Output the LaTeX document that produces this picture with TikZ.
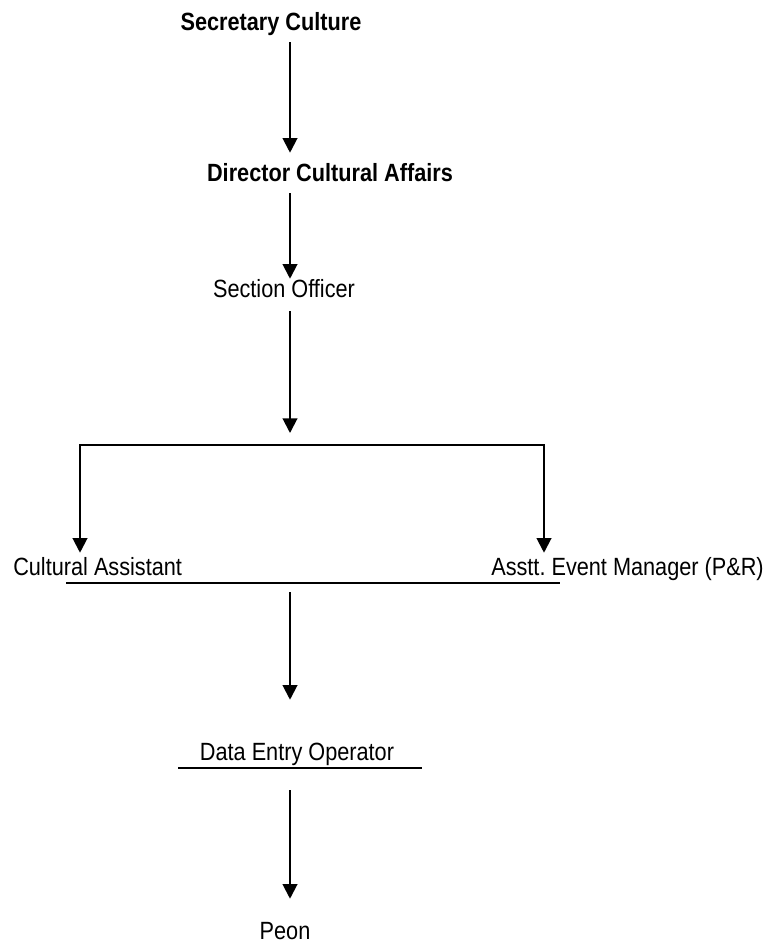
\documentclass[tikz,border=0pt]{standalone}
\usepackage{fontspec}
\setmainfont[FakeStretch=0.87]{Liberation Sans}
\usetikzlibrary{arrows.meta}

\begin{document}
\begin{tikzpicture}[x=0.75pt, y=-0.75pt,
    post_node/.style={inner sep=0pt, anchor=base, text height=12pt, text depth=3pt, font=\fontsize{18.7}{22}\selectfont},
    head_node/.style={post_node, font=\fontsize{18.7}{22}\selectfont\bfseries},
    rule_line/.style={line width=1.5pt},
    arr/.style={rule_line, -{Triangle[length=11pt,width=11pt]}}]

    \useasboundingbox (0,0) rectangle (770,944);

	\node[head_node] (1) at (271,31) {Secretary Culture};
    \node[head_node] (2) at (330,182) {Director Cultural Affairs};
    \node[post_node] (3) at (284,298) {Section Officer};
    \node[post_node, anchor=base west] (4) at (13,575) {Cultural Assistant};
    \node[post_node, anchor=base east] (5) at (764,575) {Asstt.\ Event Manager (P\&R)};
    \node[post_node] (6) at (297,760) {Data Entry Operator};
    \node[post_node] (7) at (285,939) {Peon};

    \coordinate (spine) at (290,0);
    \coordinate (split) at (290,445);
    \coordinate (left) at (80,445);
    \coordinate (right) at (544,445);
    \coordinate (ul_a) at (66,583);
    \coordinate (ul_b) at (560,583);
    \coordinate (ul_c) at (178,768);
    \coordinate (ul_d) at (422,768);

    \draw[arr, shorten <=5.25pt, shorten >=9.75pt] (1.south -| spine) -- (2.north -| spine);
    \draw[arr, shorten <=5.25pt, shorten >=2.25pt] (2.south -| spine) -- (3.north -| spine);
    \draw[arr, shorten <=6.75pt, shorten >=9pt] (3.south -| spine) -- (split);

    \draw[rule_line, line cap=rect] (left) -- (right);
    \draw[arr, shorten >=4.5pt] (left) -- (left |- 4.north);
    \draw[arr, shorten >=4.5pt] (right) -- (right |- 5.north);

    \draw[rule_line] (ul_a) -- (ul_b);
    \draw[arr, shorten <=6.75pt, shorten >=33pt] (ul_a -| spine) -- (6.north -| spine);

    \draw[rule_line] (ul_c) -- (ul_d);
    \draw[arr, shorten <=16.5pt, shorten >=18pt] (ul_c -| spine) -- (7.north -| spine);
\end{tikzpicture}
\end{document}
